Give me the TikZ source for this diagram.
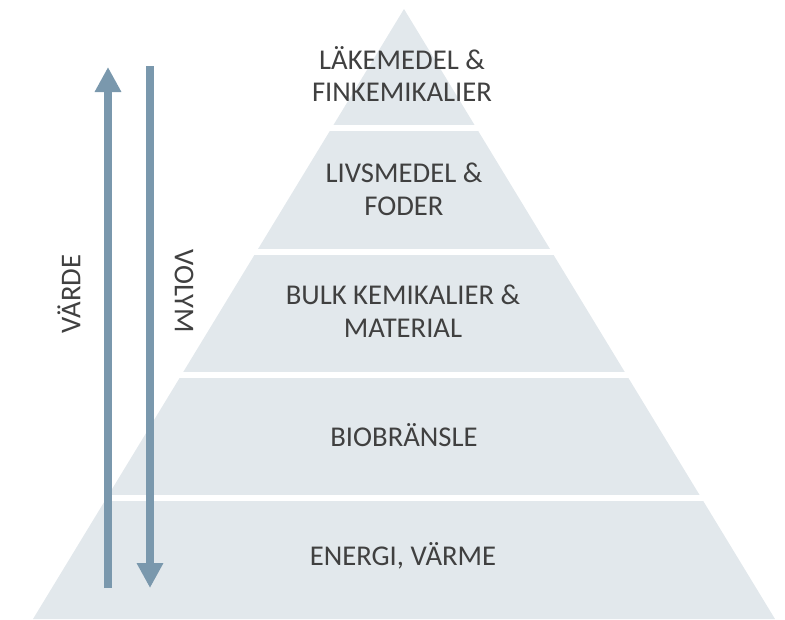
\documentclass[tikz,border=0pt]{standalone}
\usepackage{fontspec}
\setmainfont{Carlito}
\usetikzlibrary{arrows.meta}
\definecolor{pyrfill}{RGB}{226,232,236}
\definecolor{arrowblue}{RGB}{122,152,173}
\definecolor{labeltext}{RGB}{64,64,64}
\begin{document}
\begin{tikzpicture}[x=0.75pt, y=-0.75pt,
		level/.style={text=labeltext, font=\fontsize{21.5}{24.5}\selectfont, align=center},
		bigarrow/.style={-{Triangle[length=18.75pt, width=18.75pt]}, line width=6.4pt, draw=arrowblue}]
	\useasboundingbox (0,0) rectangle (785,619);
	\fill[pyrfill] (404,9) -- (775,619) -- (33,619) -- cycle;
	\foreach \y in {128,252,375,498}
		\draw[white, line width=4.5pt] (0,\y) -- (785,\y);
	\node[level] (pharma) at (402,74) {LÄKEMEDEL \&\\FINKEMIKALIER};
	\node[level] (food) at (404,189) {LIVSMEDEL \&\\FODER};
	\node[level] (bulk) at (403,311) {BULK KEMIKALIER \&\\MATERIAL};
	\node[level] (fuel) at (404,435) {BIOBRÄNSLE};
	\node[level] (energy) at (403,556) {ENERGI, VÄRME};
	\coordinate (valuelow) at (108,588);
	\coordinate (valuehigh) at (108,67);
	\coordinate (volhigh) at (150,66);
	\coordinate (vollow) at (150,588);
	\draw[bigarrow] (valuelow) -- (valuehigh);
	\draw[bigarrow] (volhigh) -- (vollow);
	\node[level, rotate=90] (value) at (69,294) {VÄRDE};
	\node[level, rotate=-90] (volume) at (184,291) {VOLYM};
\end{tikzpicture}
\end{document}
